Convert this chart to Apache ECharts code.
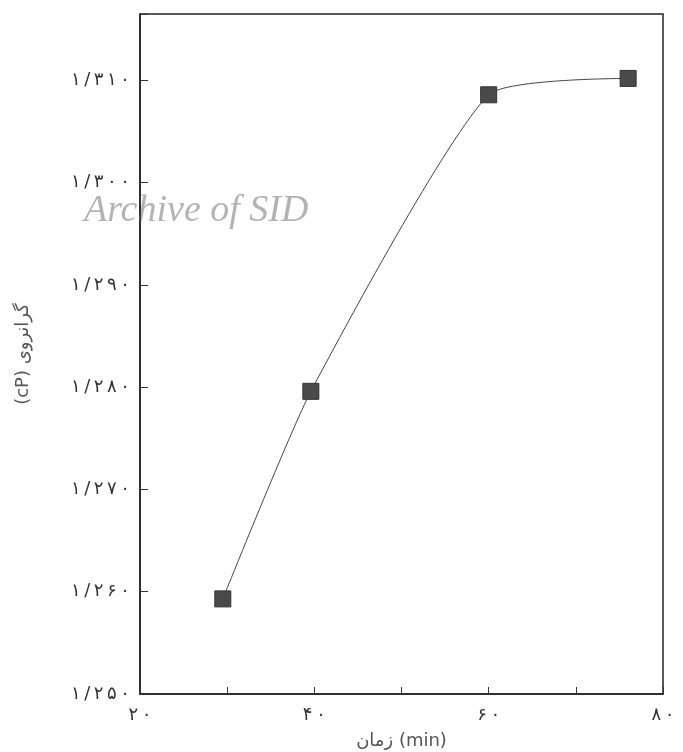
<!DOCTYPE html>
<html>
<head>
<meta charset="utf-8">
<script src="https://cdn.jsdelivr.net/npm/echarts@6/dist/echarts.min.js"></script>
<style>
html,body{margin:0;padding:0;background:#fff;}
#chart{width:683px;height:752px;}
</style>
</head>
<body>
<div id="chart"></div>
<script>
// داده‌ها: زمان (دقیقه) و گرانروی (cP)
var timeMin = [29.5, 39.6, 60, 76];
var viscosity = [1.2593, 1.2796, 1.3086, 1.3102];
var xHidden = [30, 50, 70]; // تیک بدون برچسب
var faDigits = '۰۱۲۳۴۵۶۷۸۹';

// رقم فارسی با فاصله بین حروف
function toFa(s){
	return String(s).replace(/[0-9]/g, function(d){ return faDigits[+d]; }).split('').join('\u2009');
}

var chart = echarts.init(document.getElementById('chart'));
var pts = timeMin.map(function(t, i){ return [t, viscosity[i]]; });

var option = {
	backgroundColor: '#fff',
	animation: false,
	textStyle: { fontFamily: 'DejaVu Sans' },
	grid: {
		left: 140, right: 20, top: 14, bottom: 58,
		outerBoundsMode: 'none',
		show: true, borderColor: '#222', borderWidth: 1.5
	},
	xAxis: {
		type: 'value',
		min: 20, max: 80, interval: 10,
		name: 'زمان (min)',
		nameLocation: 'middle',
		nameGap: 38,
		nameTextStyle: { color: '#555', fontSize: 18, fontFamily: 'DejaVu Sans' },
		axisLine: { show: true, lineStyle: { color: '#222', width: 1.5 } },
		axisTick: { show: true, inside: true, length: 7, lineStyle: { color: '#333' } },
		splitLine: { show: false },
		axisLabel: {
			color: '#333', fontSize: 18, margin: 12,
			formatter: function(v){
				if (xHidden.indexOf(Math.round(v)) >= 0) return '';
				return toFa(Math.round(v));
			}
		}
	},
	yAxis: {
		type: 'value',
		min: 1.25, max: 1.3165, interval: 0.01,
		name: '(cP) گرانروی',
		nameLocation: 'middle',
		nameRotate: 90,
		nameGap: 108,
		nameTextStyle: { color: '#555', fontSize: 18, fontFamily: 'DejaVu Sans' },
		axisLine: { show: true, lineStyle: { color: '#222', width: 1.5 } },
		axisTick: { show: true, inside: true, length: 8, lineStyle: { color: '#333' } },
		splitLine: { show: false },
		axisLabel: {
			color: '#333', fontSize: 18, margin: 10,
			formatter: function(v){
				if (Math.abs(v * 100 - Math.round(v * 100)) > 1e-6) return '';
				return toFa('1/' + Math.round((v - 1) * 1000));
			}
		}
	},
	series: [{
		type: 'line',
		data: pts,
		smooth: 0.18,
		symbol: 'rect',
		symbolSize: 16,
		lineStyle: { color: '#444', width: 1 },
		itemStyle: { color: '#4a4a4a', borderColor: '#333', borderWidth: 1 }
	}],
	graphic: [{
		type: 'text',
		left: 84, top: 192,
		style: {
			text: 'Archive of SID',
			fill: '#b3b3b3',
			font: 'italic 38px "Liberation Serif"'
		}
	}]
};
chart.setOption(option);
</script>
</body>
</html>
